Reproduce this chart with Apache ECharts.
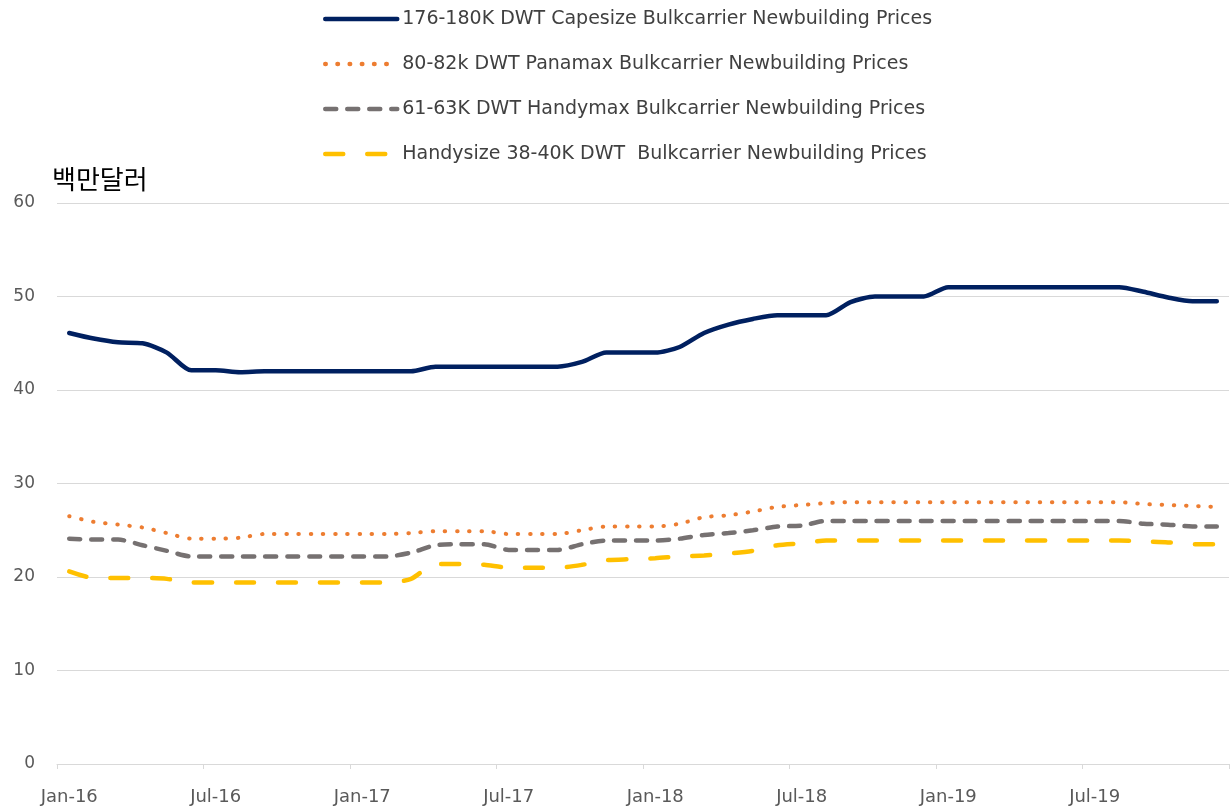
<!DOCTYPE html>
<html>
<head>
<meta charset="utf-8">
<script src="https://cdn.jsdelivr.net/npm/echarts@6/dist/echarts.min.js"></script>
<style>
html,body{margin:0;padding:0;background:#fff;}
#chart{width:1231px;height:807px;}
</style>
</head>
<body>
<div id="chart"></div>
<script>
const categories = [
 "Jan-16","Feb-16","Mar-16","Apr-16","May-16","Jun-16","Jul-16","Aug-16","Sep-16","Oct-16","Nov-16","Dec-16",
 "Jan-17","Feb-17","Mar-17","Apr-17","May-17","Jun-17","Jul-17","Aug-17","Sep-17","Oct-17","Nov-17","Dec-17",
 "Jan-18","Feb-18","Mar-18","Apr-18","May-18","Jun-18","Jul-18","Aug-18","Sep-18","Oct-18","Nov-18","Dec-18",
 "Jan-19","Feb-19","Mar-19","Apr-19","May-19","Jun-19","Jul-19","Aug-19","Sep-19","Oct-19","Nov-19","Dec-19"
];
const seriesNames = [
 "176-180K DWT Capesize Bulkcarrier Newbuilding Prices",
 "80-82k DWT Panamax Bulkcarrier Newbuilding Prices",
 "61-63K DWT Handymax Bulkcarrier Newbuilding Prices",
 "Handysize 38-40K DWT  Bulkcarrier Newbuilding Prices"
];
const capesize = [46.1,45.5,45.1,45.0,44.0,42.1,42.1,41.9,42.0,42.0, 42.0,42.0,42.0,42.0,42.0,42.5,42.5,42.5,42.5,42.5,
 42.5,43.0,44.0,44.0,44.0,44.6,46.1,47.0,47.6,48.0, 48.0,48.0,49.4,50.0,50.0,50.0,51.0,51.0,51.0,51.0,
 51.0,51.0,51.0,51.0,50.5,49.9,49.5,49.5];
const panamax = [26.5,25.9,25.6,25.3,24.7,24.1,24.1,24.2,24.6,24.6, 24.6,24.6,24.6,24.6,24.7,24.9,24.9,24.9,24.6,24.6,
 24.6,25.0,25.4,25.4,25.4,25.7,26.4,26.6,27.0,27.5, 27.7,27.9,28.0,28.0,28.0,28.0,28.0,28.0,28.0,28.0,
 28.0,28.0,28.0,28.0,27.8,27.7,27.6,27.5];
const handymax = [24.1,24.0,24.0,23.4,22.8,22.2,22.2,22.2,22.2,22.2, 22.2,22.2,22.2,22.2,22.6,23.4,23.5,23.5,22.9,22.9,
 22.9,23.5,23.9,23.9,23.9,24.1,24.5,24.7,25.0,25.4, 25.5,26.0,26.0,26.0,26.0,26.0,26.0,26.0,26.0,26.0,
 26.0,26.0,26.0,26.0,25.7,25.6,25.4,25.4];
const handysize = [20.6,19.9,19.9,19.9,19.8,19.4,19.4,19.4,19.4,19.4, 19.4,19.4,19.4,19.4,19.8,21.4,21.4,21.3,21.0,21.0,
 21.0,21.3,21.8,21.9,22.0,22.2,22.3,22.5,22.8,23.4, 23.6,23.9,23.9,23.9,23.9,23.9,23.9,23.9,23.9,23.9,
 23.9,23.9,23.9,23.9,23.8,23.7,23.5,23.5];
const yUnit = "백만달러";

const chart = echarts.init(document.getElementById('chart'), null, {renderer:'canvas'});
const font = "'DejaVu Sans', sans-serif";
chart.setOption({
  animation:false,
  backgroundColor:'#ffffff',
  title:{
    text:yUnit, left:47, top:161,
    textStyle:{fontFamily:"'Noto Sans CJK KR', sans-serif", fontSize:26, fontWeight:'normal', color:'#000'}
  },
  legend:{
    orient:'vertical', left:318, top:2,
    itemWidth:72, itemHeight:14, itemGap:21,
    itemStyle:{opacity:0},
    lineStyle:{width:4.5},
    textStyle:{fontFamily:font, fontSize:19, color:'#404040', lineHeight:24},
    data:seriesNames
  },
  grid:{left:57, right:2, top:203, bottom:43, containLabel:false},
  xAxis:{
    type:'category', data:categories, boundaryGap:true,
    axisLine:{lineStyle:{color:'#d9d9d9', width:1}},
    axisTick:{show:true, interval:5, length:5, lineStyle:{color:'#d9d9d9'}},
    axisLabel:{interval:5, margin:24, fontFamily:font, fontSize:18, color:'#595959'}
  },
  yAxis:{
    type:'value', min:0, max:60, interval:10,
    axisLine:{show:false}, axisTick:{show:false},
    splitLine:{lineStyle:{color:'#d9d9d9', width:1}},
    axisLabel:{margin:22, fontFamily:font, fontSize:17, color:'#595959'}
  },
  series:[
    {name:seriesNames[0], type:'line', data:capesize, symbol:'none', smooth:0.25,
     lineStyle:{color:'#002060', width:4.5, cap:'round'}, itemStyle:{color:'#002060'}},
    {name:seriesNames[1], type:'line', data:panamax, symbol:'none', smooth:0.25,
     lineStyle:{color:'#ED7D31', width:4, type:[0.5,11.7], cap:'round'}, itemStyle:{color:'#ED7D31'}},
    {name:seriesNames[2], type:'line', data:handymax, symbol:'none', smooth:0.25,
     lineStyle:{color:'#767171', width:4.5, type:[11,11], cap:'round'}, itemStyle:{color:'#767171'}},
    {name:seriesNames[3], type:'line', data:handysize, symbol:'none', smooth:0.25,
     lineStyle:{color:'#FFC000', width:4.5, type:[18,24], cap:'round'}, itemStyle:{color:'#FFC000'}}
  ]
});
</script>
</body>
</html>
